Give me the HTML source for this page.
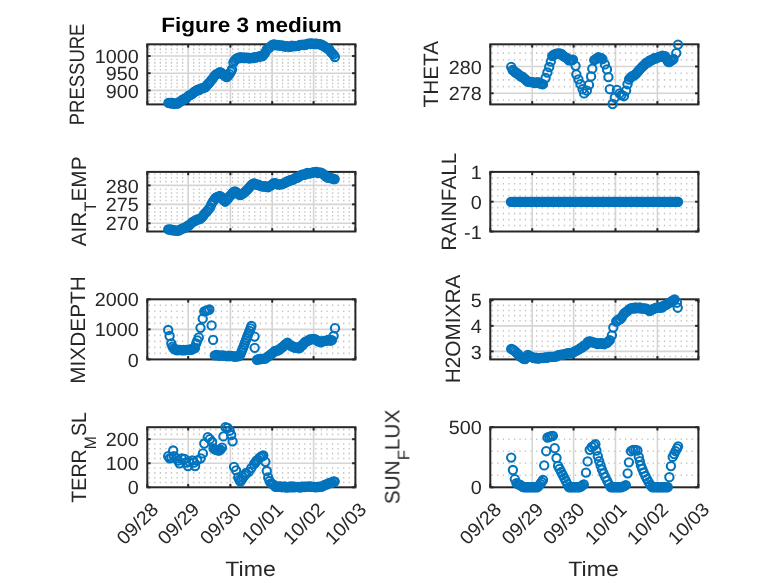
<!DOCTYPE html>
<html><head><meta charset="utf-8"><title>Figure 3 medium</title>
<style>html,body{margin:0;padding:0;background:#fff}svg{display:block}text{text-rendering:geometricPrecision}</style></head>
<body>
<svg width="778" height="583" viewBox="0 0 778 583" font-family="Liberation Sans, sans-serif">
<rect width="778" height="583" fill="#fff"/>
<g opacity="0.996">
<g><line x1="148.60" y1="100.72" x2="355.40" y2="100.72" stroke="#c4c4c4" stroke-width="1.6" stroke-dasharray="1.3 4.256"/><line x1="148.60" y1="97.28" x2="355.40" y2="97.28" stroke="#c4c4c4" stroke-width="1.6" stroke-dasharray="1.3 4.256"/><line x1="148.60" y1="93.84" x2="355.40" y2="93.84" stroke="#c4c4c4" stroke-width="1.6" stroke-dasharray="1.3 4.256"/><line x1="148.60" y1="86.96" x2="355.40" y2="86.96" stroke="#c4c4c4" stroke-width="1.6" stroke-dasharray="1.3 4.256"/><line x1="148.60" y1="83.52" x2="355.40" y2="83.52" stroke="#c4c4c4" stroke-width="1.6" stroke-dasharray="1.3 4.256"/><line x1="148.60" y1="80.08" x2="355.40" y2="80.08" stroke="#c4c4c4" stroke-width="1.6" stroke-dasharray="1.3 4.256"/><line x1="148.60" y1="76.64" x2="355.40" y2="76.64" stroke="#c4c4c4" stroke-width="1.6" stroke-dasharray="1.3 4.256"/><line x1="148.60" y1="69.76" x2="355.40" y2="69.76" stroke="#c4c4c4" stroke-width="1.6" stroke-dasharray="1.3 4.256"/><line x1="148.60" y1="66.32" x2="355.40" y2="66.32" stroke="#c4c4c4" stroke-width="1.6" stroke-dasharray="1.3 4.256"/><line x1="148.60" y1="62.88" x2="355.40" y2="62.88" stroke="#c4c4c4" stroke-width="1.6" stroke-dasharray="1.3 4.256"/><line x1="148.60" y1="59.44" x2="355.40" y2="59.44" stroke="#c4c4c4" stroke-width="1.6" stroke-dasharray="1.3 4.256"/><line x1="148.60" y1="52.56" x2="355.40" y2="52.56" stroke="#c4c4c4" stroke-width="1.6" stroke-dasharray="1.3 4.256"/><line x1="148.60" y1="49.12" x2="355.40" y2="49.12" stroke="#c4c4c4" stroke-width="1.6" stroke-dasharray="1.3 4.256"/><line x1="148.60" y1="45.68" x2="355.40" y2="45.68" stroke="#c4c4c4" stroke-width="1.6" stroke-dasharray="1.3 4.256"/><line x1="188.20" y1="44.30" x2="188.20" y2="104.40" stroke="#d5d5d5" stroke-width="1.6"/><line x1="230.40" y1="44.30" x2="230.40" y2="104.40" stroke="#d5d5d5" stroke-width="1.6"/><line x1="272.20" y1="44.30" x2="272.20" y2="104.40" stroke="#d5d5d5" stroke-width="1.6"/><line x1="313.60" y1="44.30" x2="313.60" y2="104.40" stroke="#d5d5d5" stroke-width="1.6"/><line x1="147.30" y1="56.00" x2="355.40" y2="56.00" stroke="#d5d5d5" stroke-width="1.6"/><line x1="147.30" y1="73.20" x2="355.40" y2="73.20" stroke="#d5d5d5" stroke-width="1.6"/><line x1="147.30" y1="90.40" x2="355.40" y2="90.40" stroke="#d5d5d5" stroke-width="1.6"/></g>
<g><rect x="147.30" y="44.30" width="208.10" height="60.10" fill="none" stroke="#262626" stroke-width="2.0"/><line x1="147.30" y1="104.40" x2="147.30" y2="101.10" stroke="#262626" stroke-width="2.0"/><line x1="147.30" y1="44.30" x2="147.30" y2="47.60" stroke="#262626" stroke-width="2.0"/><line x1="188.20" y1="104.40" x2="188.20" y2="101.10" stroke="#262626" stroke-width="2.0"/><line x1="188.20" y1="44.30" x2="188.20" y2="47.60" stroke="#262626" stroke-width="2.0"/><line x1="230.40" y1="104.40" x2="230.40" y2="101.10" stroke="#262626" stroke-width="2.0"/><line x1="230.40" y1="44.30" x2="230.40" y2="47.60" stroke="#262626" stroke-width="2.0"/><line x1="272.20" y1="104.40" x2="272.20" y2="101.10" stroke="#262626" stroke-width="2.0"/><line x1="272.20" y1="44.30" x2="272.20" y2="47.60" stroke="#262626" stroke-width="2.0"/><line x1="313.60" y1="104.40" x2="313.60" y2="101.10" stroke="#262626" stroke-width="2.0"/><line x1="313.60" y1="44.30" x2="313.60" y2="47.60" stroke="#262626" stroke-width="2.0"/><line x1="355.40" y1="104.40" x2="355.40" y2="101.10" stroke="#262626" stroke-width="2.0"/><line x1="355.40" y1="44.30" x2="355.40" y2="47.60" stroke="#262626" stroke-width="2.0"/><line x1="147.30" y1="56.00" x2="150.60" y2="56.00" stroke="#262626" stroke-width="2.0"/><line x1="355.40" y1="56.00" x2="352.10" y2="56.00" stroke="#262626" stroke-width="2.0"/><text transform="translate(138.70,63.14) scale(1.035,1)" font-size="19.1" fill="#262626" text-anchor="end">1000</text><line x1="147.30" y1="73.20" x2="150.60" y2="73.20" stroke="#262626" stroke-width="2.0"/><line x1="355.40" y1="73.20" x2="352.10" y2="73.20" stroke="#262626" stroke-width="2.0"/><text transform="translate(138.70,80.34) scale(1.035,1)" font-size="19.1" fill="#262626" text-anchor="end">950</text><line x1="147.30" y1="90.40" x2="150.60" y2="90.40" stroke="#262626" stroke-width="2.0"/><line x1="355.40" y1="90.40" x2="352.10" y2="90.40" stroke="#262626" stroke-width="2.0"/><text transform="translate(138.70,97.54) scale(1.035,1)" font-size="19.1" fill="#262626" text-anchor="end">900</text></g>
<g fill="none" stroke="#0072BD" stroke-width="2.05"><circle cx="168.4" cy="102.8" r="4.15"/><circle cx="169.8" cy="102.8" r="4.15"/><circle cx="171.2" cy="103.5" r="4.15"/><circle cx="172.6" cy="103.0" r="4.15"/><circle cx="174.0" cy="103.7" r="4.15"/><circle cx="175.3" cy="103.7" r="4.15"/><circle cx="176.7" cy="103.5" r="4.15"/><circle cx="178.1" cy="103.3" r="4.15"/><circle cx="179.5" cy="101.8" r="4.15"/><circle cx="180.9" cy="101.4" r="4.15"/><circle cx="182.3" cy="100.0" r="4.15"/><circle cx="183.7" cy="99.2" r="4.15"/><circle cx="185.1" cy="98.6" r="4.15"/><circle cx="186.5" cy="98.1" r="4.15"/><circle cx="187.9" cy="96.3" r="4.15"/><circle cx="189.2" cy="95.4" r="4.15"/><circle cx="190.6" cy="94.8" r="4.15"/><circle cx="192.0" cy="94.1" r="4.15"/><circle cx="193.4" cy="92.7" r="4.15"/><circle cx="194.8" cy="91.5" r="4.15"/><circle cx="196.2" cy="91.2" r="4.15"/><circle cx="197.6" cy="89.7" r="4.15"/><circle cx="199.0" cy="90.1" r="4.15"/><circle cx="200.4" cy="89.0" r="4.15"/><circle cx="201.8" cy="88.3" r="4.15"/><circle cx="203.1" cy="87.8" r="4.15"/><circle cx="204.5" cy="87.5" r="4.15"/><circle cx="205.9" cy="86.8" r="4.15"/><circle cx="207.3" cy="84.6" r="4.15"/><circle cx="208.7" cy="83.5" r="4.15"/><circle cx="210.1" cy="81.9" r="4.15"/><circle cx="211.5" cy="79.9" r="4.15"/><circle cx="212.9" cy="78.4" r="4.15"/><circle cx="214.3" cy="76.1" r="4.15"/><circle cx="215.7" cy="74.6" r="4.15"/><circle cx="217.0" cy="73.8" r="4.15"/><circle cx="218.4" cy="73.4" r="4.15"/><circle cx="219.8" cy="72.1" r="4.15"/><circle cx="221.2" cy="72.7" r="4.15"/><circle cx="222.6" cy="74.0" r="4.15"/><circle cx="224.0" cy="75.1" r="4.15"/><circle cx="225.4" cy="76.4" r="4.15"/><circle cx="226.8" cy="77.1" r="4.15"/><circle cx="228.2" cy="75.8" r="4.15"/><circle cx="229.6" cy="74.1" r="4.15"/><circle cx="230.9" cy="71.7" r="4.15"/><circle cx="232.0" cy="69.5" r="4.15"/><circle cx="233.4" cy="62.5" r="4.15"/><circle cx="234.8" cy="60.4" r="4.15"/><circle cx="236.2" cy="58.9" r="4.15"/><circle cx="237.6" cy="57.9" r="4.15"/><circle cx="239.0" cy="58.3" r="4.15"/><circle cx="240.3" cy="57.2" r="4.15"/><circle cx="241.7" cy="57.7" r="4.15"/><circle cx="243.1" cy="58.1" r="4.15"/><circle cx="244.5" cy="57.5" r="4.15"/><circle cx="245.9" cy="58.0" r="4.15"/><circle cx="247.3" cy="57.6" r="4.15"/><circle cx="248.7" cy="58.4" r="4.15"/><circle cx="250.1" cy="58.3" r="4.15"/><circle cx="251.5" cy="57.9" r="4.15"/><circle cx="252.9" cy="58.1" r="4.15"/><circle cx="254.2" cy="57.3" r="4.15"/><circle cx="255.6" cy="57.5" r="4.15"/><circle cx="257.0" cy="57.2" r="4.15"/><circle cx="258.4" cy="56.8" r="4.15"/><circle cx="259.8" cy="56.3" r="4.15"/><circle cx="261.2" cy="56.3" r="4.15"/><circle cx="262.6" cy="56.0" r="4.15"/><circle cx="264.0" cy="54.4" r="4.15"/><circle cx="265.4" cy="52.3" r="4.15"/><circle cx="266.8" cy="49.4" r="4.15"/><circle cx="268.1" cy="48.7" r="4.15"/><circle cx="269.5" cy="47.3" r="4.15"/><circle cx="270.9" cy="46.4" r="4.15"/><circle cx="272.3" cy="44.9" r="4.15"/><circle cx="273.7" cy="44.5" r="4.15"/><circle cx="275.1" cy="44.8" r="4.15"/><circle cx="276.5" cy="45.4" r="4.15"/><circle cx="277.9" cy="44.9" r="4.15"/><circle cx="279.3" cy="45.6" r="4.15"/><circle cx="280.7" cy="45.5" r="4.15"/><circle cx="282.0" cy="45.6" r="4.15"/><circle cx="283.4" cy="45.7" r="4.15"/><circle cx="284.8" cy="46.7" r="4.15"/><circle cx="286.2" cy="46.1" r="4.15"/><circle cx="287.6" cy="46.4" r="4.15"/><circle cx="289.0" cy="46.6" r="4.15"/><circle cx="290.4" cy="46.9" r="4.15"/><circle cx="291.8" cy="45.8" r="4.15"/><circle cx="293.2" cy="46.1" r="4.15"/><circle cx="294.6" cy="46.0" r="4.15"/><circle cx="295.9" cy="46.1" r="4.15"/><circle cx="297.3" cy="45.9" r="4.15"/><circle cx="298.7" cy="45.7" r="4.15"/><circle cx="300.1" cy="44.9" r="4.15"/><circle cx="301.5" cy="44.9" r="4.15"/><circle cx="302.9" cy="44.6" r="4.15"/><circle cx="304.3" cy="45.0" r="4.15"/><circle cx="305.7" cy="44.9" r="4.15"/><circle cx="307.1" cy="43.9" r="4.15"/><circle cx="308.5" cy="43.7" r="4.15"/><circle cx="309.8" cy="43.6" r="4.15"/><circle cx="311.2" cy="43.4" r="4.15"/><circle cx="312.6" cy="43.8" r="4.15"/><circle cx="314.0" cy="44.0" r="4.15"/><circle cx="315.4" cy="43.7" r="4.15"/><circle cx="316.8" cy="43.6" r="4.15"/><circle cx="318.2" cy="44.1" r="4.15"/><circle cx="319.6" cy="44.2" r="4.15"/><circle cx="321.0" cy="44.5" r="4.15"/><circle cx="322.4" cy="45.3" r="4.15"/><circle cx="323.7" cy="46.0" r="4.15"/><circle cx="325.1" cy="46.8" r="4.15"/><circle cx="326.5" cy="47.9" r="4.15"/><circle cx="327.9" cy="48.9" r="4.15"/><circle cx="329.3" cy="49.5" r="4.15"/><circle cx="330.7" cy="51.8" r="4.15"/><circle cx="332.1" cy="53.1" r="4.15"/><circle cx="333.5" cy="54.6" r="4.15"/><circle cx="334.9" cy="57.0" r="4.15"/></g>
<g><line x1="148.60" y1="227.09" x2="355.40" y2="227.09" stroke="#c4c4c4" stroke-width="1.6" stroke-dasharray="1.3 4.256"/><line x1="148.60" y1="219.51" x2="355.40" y2="219.51" stroke="#c4c4c4" stroke-width="1.6" stroke-dasharray="1.3 4.256"/><line x1="148.60" y1="215.72" x2="355.40" y2="215.72" stroke="#c4c4c4" stroke-width="1.6" stroke-dasharray="1.3 4.256"/><line x1="148.60" y1="211.93" x2="355.40" y2="211.93" stroke="#c4c4c4" stroke-width="1.6" stroke-dasharray="1.3 4.256"/><line x1="148.60" y1="208.14" x2="355.40" y2="208.14" stroke="#c4c4c4" stroke-width="1.6" stroke-dasharray="1.3 4.256"/><line x1="148.60" y1="200.56" x2="355.40" y2="200.56" stroke="#c4c4c4" stroke-width="1.6" stroke-dasharray="1.3 4.256"/><line x1="148.60" y1="196.77" x2="355.40" y2="196.77" stroke="#c4c4c4" stroke-width="1.6" stroke-dasharray="1.3 4.256"/><line x1="148.60" y1="192.98" x2="355.40" y2="192.98" stroke="#c4c4c4" stroke-width="1.6" stroke-dasharray="1.3 4.256"/><line x1="148.60" y1="189.19" x2="355.40" y2="189.19" stroke="#c4c4c4" stroke-width="1.6" stroke-dasharray="1.3 4.256"/><line x1="148.60" y1="181.61" x2="355.40" y2="181.61" stroke="#c4c4c4" stroke-width="1.6" stroke-dasharray="1.3 4.256"/><line x1="148.60" y1="177.82" x2="355.40" y2="177.82" stroke="#c4c4c4" stroke-width="1.6" stroke-dasharray="1.3 4.256"/><line x1="148.60" y1="174.03" x2="355.40" y2="174.03" stroke="#c4c4c4" stroke-width="1.6" stroke-dasharray="1.3 4.256"/><line x1="188.20" y1="171.90" x2="188.20" y2="231.50" stroke="#d5d5d5" stroke-width="1.6"/><line x1="230.40" y1="171.90" x2="230.40" y2="231.50" stroke="#d5d5d5" stroke-width="1.6"/><line x1="272.20" y1="171.90" x2="272.20" y2="231.50" stroke="#d5d5d5" stroke-width="1.6"/><line x1="313.60" y1="171.90" x2="313.60" y2="231.50" stroke="#d5d5d5" stroke-width="1.6"/><line x1="147.30" y1="185.40" x2="355.40" y2="185.40" stroke="#d5d5d5" stroke-width="1.6"/><line x1="147.30" y1="204.35" x2="355.40" y2="204.35" stroke="#d5d5d5" stroke-width="1.6"/><line x1="147.30" y1="223.30" x2="355.40" y2="223.30" stroke="#d5d5d5" stroke-width="1.6"/></g>
<g><rect x="147.30" y="171.90" width="208.10" height="59.60" fill="none" stroke="#262626" stroke-width="2.0"/><line x1="147.30" y1="231.50" x2="147.30" y2="228.20" stroke="#262626" stroke-width="2.0"/><line x1="147.30" y1="171.90" x2="147.30" y2="175.20" stroke="#262626" stroke-width="2.0"/><line x1="188.20" y1="231.50" x2="188.20" y2="228.20" stroke="#262626" stroke-width="2.0"/><line x1="188.20" y1="171.90" x2="188.20" y2="175.20" stroke="#262626" stroke-width="2.0"/><line x1="230.40" y1="231.50" x2="230.40" y2="228.20" stroke="#262626" stroke-width="2.0"/><line x1="230.40" y1="171.90" x2="230.40" y2="175.20" stroke="#262626" stroke-width="2.0"/><line x1="272.20" y1="231.50" x2="272.20" y2="228.20" stroke="#262626" stroke-width="2.0"/><line x1="272.20" y1="171.90" x2="272.20" y2="175.20" stroke="#262626" stroke-width="2.0"/><line x1="313.60" y1="231.50" x2="313.60" y2="228.20" stroke="#262626" stroke-width="2.0"/><line x1="313.60" y1="171.90" x2="313.60" y2="175.20" stroke="#262626" stroke-width="2.0"/><line x1="355.40" y1="231.50" x2="355.40" y2="228.20" stroke="#262626" stroke-width="2.0"/><line x1="355.40" y1="171.90" x2="355.40" y2="175.20" stroke="#262626" stroke-width="2.0"/><line x1="147.30" y1="185.40" x2="150.60" y2="185.40" stroke="#262626" stroke-width="2.0"/><line x1="355.40" y1="185.40" x2="352.10" y2="185.40" stroke="#262626" stroke-width="2.0"/><text transform="translate(138.70,192.54) scale(1.035,1)" font-size="19.1" fill="#262626" text-anchor="end">280</text><line x1="147.30" y1="204.35" x2="150.60" y2="204.35" stroke="#262626" stroke-width="2.0"/><line x1="355.40" y1="204.35" x2="352.10" y2="204.35" stroke="#262626" stroke-width="2.0"/><text transform="translate(138.70,211.49) scale(1.035,1)" font-size="19.1" fill="#262626" text-anchor="end">275</text><line x1="147.30" y1="223.30" x2="150.60" y2="223.30" stroke="#262626" stroke-width="2.0"/><line x1="355.40" y1="223.30" x2="352.10" y2="223.30" stroke="#262626" stroke-width="2.0"/><text transform="translate(138.70,230.44) scale(1.035,1)" font-size="19.1" fill="#262626" text-anchor="end">270</text></g>
<g fill="none" stroke="#0072BD" stroke-width="2.05"><circle cx="168.2" cy="229.3" r="4.15"/><circle cx="169.6" cy="229.6" r="4.15"/><circle cx="171.0" cy="229.5" r="4.15"/><circle cx="172.4" cy="230.4" r="4.15"/><circle cx="173.8" cy="230.1" r="4.15"/><circle cx="175.1" cy="230.4" r="4.15"/><circle cx="176.5" cy="230.8" r="4.15"/><circle cx="177.9" cy="230.7" r="4.15"/><circle cx="179.3" cy="230.3" r="4.15"/><circle cx="180.7" cy="229.4" r="4.15"/><circle cx="182.1" cy="228.7" r="4.15"/><circle cx="183.5" cy="228.3" r="4.15"/><circle cx="184.9" cy="227.6" r="4.15"/><circle cx="186.3" cy="227.0" r="4.15"/><circle cx="187.7" cy="225.6" r="4.15"/><circle cx="189.0" cy="225.5" r="4.15"/><circle cx="190.4" cy="224.1" r="4.15"/><circle cx="191.8" cy="222.6" r="4.15"/><circle cx="193.2" cy="221.7" r="4.15"/><circle cx="194.6" cy="221.0" r="4.15"/><circle cx="196.0" cy="220.3" r="4.15"/><circle cx="197.4" cy="219.3" r="4.15"/><circle cx="198.8" cy="219.4" r="4.15"/><circle cx="200.2" cy="218.9" r="4.15"/><circle cx="201.6" cy="217.6" r="4.15"/><circle cx="202.9" cy="216.4" r="4.15"/><circle cx="204.3" cy="214.2" r="4.15"/><circle cx="205.7" cy="212.6" r="4.15"/><circle cx="207.1" cy="211.2" r="4.15"/><circle cx="208.5" cy="209.4" r="4.15"/><circle cx="209.9" cy="207.9" r="4.15"/><circle cx="211.3" cy="204.5" r="4.15"/><circle cx="212.7" cy="201.8" r="4.15"/><circle cx="214.1" cy="200.2" r="4.15"/><circle cx="215.5" cy="198.0" r="4.15"/><circle cx="216.8" cy="197.1" r="4.15"/><circle cx="218.2" cy="197.0" r="4.15"/><circle cx="219.6" cy="195.9" r="4.15"/><circle cx="221.0" cy="196.7" r="4.15"/><circle cx="222.4" cy="198.8" r="4.15"/><circle cx="223.8" cy="200.3" r="4.15"/><circle cx="225.2" cy="201.7" r="4.15"/><circle cx="226.6" cy="200.2" r="4.15"/><circle cx="228.0" cy="198.5" r="4.15"/><circle cx="229.4" cy="196.5" r="4.15"/><circle cx="230.7" cy="195.4" r="4.15"/><circle cx="232.1" cy="193.5" r="4.15"/><circle cx="233.5" cy="192.1" r="4.15"/><circle cx="234.9" cy="191.5" r="4.15"/><circle cx="236.3" cy="192.2" r="4.15"/><circle cx="237.7" cy="193.6" r="4.15"/><circle cx="239.1" cy="194.5" r="4.15"/><circle cx="240.5" cy="195.0" r="4.15"/><circle cx="241.9" cy="194.1" r="4.15"/><circle cx="243.3" cy="193.3" r="4.15"/><circle cx="244.6" cy="192.3" r="4.15"/><circle cx="246.0" cy="190.9" r="4.15"/><circle cx="247.4" cy="189.7" r="4.15"/><circle cx="248.8" cy="188.1" r="4.15"/><circle cx="250.2" cy="186.3" r="4.15"/><circle cx="251.6" cy="184.9" r="4.15"/><circle cx="253.0" cy="183.7" r="4.15"/><circle cx="254.4" cy="183.4" r="4.15"/><circle cx="255.8" cy="184.2" r="4.15"/><circle cx="257.2" cy="184.9" r="4.15"/><circle cx="258.5" cy="184.7" r="4.15"/><circle cx="259.9" cy="185.7" r="4.15"/><circle cx="261.3" cy="186.1" r="4.15"/><circle cx="262.7" cy="186.5" r="4.15"/><circle cx="264.1" cy="186.2" r="4.15"/><circle cx="265.5" cy="186.5" r="4.15"/><circle cx="266.9" cy="186.9" r="4.15"/><circle cx="268.3" cy="187.2" r="4.15"/><circle cx="269.7" cy="186.0" r="4.15"/><circle cx="271.1" cy="185.3" r="4.15"/><circle cx="272.4" cy="184.4" r="4.15"/><circle cx="273.8" cy="183.1" r="4.15"/><circle cx="275.2" cy="183.2" r="4.15"/><circle cx="276.6" cy="183.9" r="4.15"/><circle cx="278.0" cy="184.6" r="4.15"/><circle cx="279.4" cy="184.3" r="4.15"/><circle cx="280.8" cy="184.4" r="4.15"/><circle cx="282.2" cy="184.1" r="4.15"/><circle cx="283.6" cy="183.4" r="4.15"/><circle cx="285.0" cy="182.8" r="4.15"/><circle cx="286.3" cy="182.0" r="4.15"/><circle cx="287.7" cy="181.1" r="4.15"/><circle cx="289.1" cy="181.1" r="4.15"/><circle cx="290.5" cy="180.0" r="4.15"/><circle cx="291.9" cy="179.9" r="4.15"/><circle cx="293.3" cy="179.5" r="4.15"/><circle cx="294.7" cy="178.3" r="4.15"/><circle cx="296.1" cy="177.7" r="4.15"/><circle cx="297.5" cy="177.7" r="4.15"/><circle cx="298.9" cy="176.9" r="4.15"/><circle cx="300.2" cy="175.7" r="4.15"/><circle cx="301.6" cy="175.0" r="4.15"/><circle cx="303.0" cy="174.5" r="4.15"/><circle cx="304.4" cy="174.8" r="4.15"/><circle cx="305.8" cy="174.1" r="4.15"/><circle cx="307.2" cy="173.0" r="4.15"/><circle cx="308.6" cy="173.5" r="4.15"/><circle cx="310.0" cy="173.4" r="4.15"/><circle cx="311.4" cy="172.9" r="4.15"/><circle cx="312.8" cy="172.3" r="4.15"/><circle cx="314.1" cy="172.3" r="4.15"/><circle cx="315.5" cy="171.8" r="4.15"/><circle cx="316.9" cy="171.8" r="4.15"/><circle cx="318.3" cy="173.0" r="4.15"/><circle cx="319.7" cy="172.7" r="4.15"/><circle cx="321.1" cy="172.7" r="4.15"/><circle cx="322.5" cy="173.7" r="4.15"/><circle cx="323.9" cy="174.4" r="4.15"/><circle cx="325.3" cy="176.1" r="4.15"/><circle cx="326.7" cy="177.2" r="4.15"/><circle cx="328.0" cy="177.5" r="4.15"/><circle cx="329.4" cy="177.8" r="4.15"/><circle cx="330.8" cy="178.1" r="4.15"/><circle cx="332.2" cy="178.3" r="4.15"/><circle cx="333.6" cy="179.0" r="4.15"/><circle cx="334.7" cy="179.1" r="4.15"/></g>
<g><line x1="148.60" y1="353.39" x2="355.40" y2="353.39" stroke="#c4c4c4" stroke-width="1.6" stroke-dasharray="1.3 4.256"/><line x1="148.60" y1="347.38" x2="355.40" y2="347.38" stroke="#c4c4c4" stroke-width="1.6" stroke-dasharray="1.3 4.256"/><line x1="148.60" y1="341.37" x2="355.40" y2="341.37" stroke="#c4c4c4" stroke-width="1.6" stroke-dasharray="1.3 4.256"/><line x1="148.60" y1="335.36" x2="355.40" y2="335.36" stroke="#c4c4c4" stroke-width="1.6" stroke-dasharray="1.3 4.256"/><line x1="148.60" y1="323.34" x2="355.40" y2="323.34" stroke="#c4c4c4" stroke-width="1.6" stroke-dasharray="1.3 4.256"/><line x1="148.60" y1="317.33" x2="355.40" y2="317.33" stroke="#c4c4c4" stroke-width="1.6" stroke-dasharray="1.3 4.256"/><line x1="148.60" y1="311.32" x2="355.40" y2="311.32" stroke="#c4c4c4" stroke-width="1.6" stroke-dasharray="1.3 4.256"/><line x1="148.60" y1="305.31" x2="355.40" y2="305.31" stroke="#c4c4c4" stroke-width="1.6" stroke-dasharray="1.3 4.256"/><line x1="188.20" y1="299.30" x2="188.20" y2="359.40" stroke="#d5d5d5" stroke-width="1.6"/><line x1="230.40" y1="299.30" x2="230.40" y2="359.40" stroke="#d5d5d5" stroke-width="1.6"/><line x1="272.20" y1="299.30" x2="272.20" y2="359.40" stroke="#d5d5d5" stroke-width="1.6"/><line x1="313.60" y1="299.30" x2="313.60" y2="359.40" stroke="#d5d5d5" stroke-width="1.6"/><line x1="147.30" y1="329.35" x2="355.40" y2="329.35" stroke="#d5d5d5" stroke-width="1.6"/></g>
<g><rect x="147.30" y="299.30" width="208.10" height="60.10" fill="none" stroke="#262626" stroke-width="2.0"/><line x1="147.30" y1="359.40" x2="147.30" y2="356.10" stroke="#262626" stroke-width="2.0"/><line x1="147.30" y1="299.30" x2="147.30" y2="302.60" stroke="#262626" stroke-width="2.0"/><line x1="188.20" y1="359.40" x2="188.20" y2="356.10" stroke="#262626" stroke-width="2.0"/><line x1="188.20" y1="299.30" x2="188.20" y2="302.60" stroke="#262626" stroke-width="2.0"/><line x1="230.40" y1="359.40" x2="230.40" y2="356.10" stroke="#262626" stroke-width="2.0"/><line x1="230.40" y1="299.30" x2="230.40" y2="302.60" stroke="#262626" stroke-width="2.0"/><line x1="272.20" y1="359.40" x2="272.20" y2="356.10" stroke="#262626" stroke-width="2.0"/><line x1="272.20" y1="299.30" x2="272.20" y2="302.60" stroke="#262626" stroke-width="2.0"/><line x1="313.60" y1="359.40" x2="313.60" y2="356.10" stroke="#262626" stroke-width="2.0"/><line x1="313.60" y1="299.30" x2="313.60" y2="302.60" stroke="#262626" stroke-width="2.0"/><line x1="355.40" y1="359.40" x2="355.40" y2="356.10" stroke="#262626" stroke-width="2.0"/><line x1="355.40" y1="299.30" x2="355.40" y2="302.60" stroke="#262626" stroke-width="2.0"/><line x1="147.30" y1="299.30" x2="150.60" y2="299.30" stroke="#262626" stroke-width="2.0"/><line x1="355.40" y1="299.30" x2="352.10" y2="299.30" stroke="#262626" stroke-width="2.0"/><text transform="translate(138.70,306.44) scale(1.035,1)" font-size="19.1" fill="#262626" text-anchor="end">2000</text><line x1="147.30" y1="329.35" x2="150.60" y2="329.35" stroke="#262626" stroke-width="2.0"/><line x1="355.40" y1="329.35" x2="352.10" y2="329.35" stroke="#262626" stroke-width="2.0"/><text transform="translate(138.70,336.49) scale(1.035,1)" font-size="19.1" fill="#262626" text-anchor="end">1000</text><line x1="147.30" y1="359.40" x2="150.60" y2="359.40" stroke="#262626" stroke-width="2.0"/><line x1="355.40" y1="359.40" x2="352.10" y2="359.40" stroke="#262626" stroke-width="2.0"/><text transform="translate(138.70,366.54) scale(1.035,1)" font-size="19.1" fill="#262626" text-anchor="end">0</text></g>
<g fill="none" stroke="#0072BD" stroke-width="2.05"><circle cx="168.2" cy="330.0" r="4.15"/><circle cx="169.6" cy="336.0" r="4.15"/><circle cx="171.3" cy="343.5" r="4.15"/><circle cx="172.5" cy="346.6" r="4.15"/><circle cx="173.5" cy="348.3" r="4.15"/><circle cx="174.8" cy="349.3" r="4.15"/><circle cx="176.0" cy="349.5" r="4.15"/><circle cx="177.3" cy="350.4" r="4.15"/><circle cx="178.6" cy="349.8" r="4.15"/><circle cx="179.9" cy="349.9" r="4.15"/><circle cx="181.1" cy="350.1" r="4.15"/><circle cx="182.4" cy="350.4" r="4.15"/><circle cx="183.7" cy="349.9" r="4.15"/><circle cx="185.0" cy="350.4" r="4.15"/><circle cx="186.2" cy="349.9" r="4.15"/><circle cx="187.5" cy="349.9" r="4.15"/><circle cx="188.8" cy="349.9" r="4.15"/><circle cx="190.1" cy="349.3" r="4.15"/><circle cx="191.3" cy="349.8" r="4.15"/><circle cx="192.6" cy="349.1" r="4.15"/><circle cx="193.9" cy="348.1" r="4.15"/><circle cx="195.0" cy="348.0" r="4.15"/><circle cx="196.2" cy="343.5" r="4.15"/><circle cx="197.4" cy="340.3" r="4.15"/><circle cx="198.8" cy="337.4" r="4.15"/><circle cx="200.5" cy="327.8" r="4.15"/><circle cx="202.7" cy="318.7" r="4.15"/><circle cx="204.3" cy="311.4" r="4.15"/><circle cx="206.0" cy="310.8" r="4.15"/><circle cx="207.7" cy="310.2" r="4.15"/><circle cx="209.4" cy="309.5" r="4.15"/><circle cx="211.6" cy="325.4" r="4.15"/><circle cx="213.1" cy="339.9" r="4.15"/><circle cx="214.8" cy="355.4" r="4.15"/><circle cx="216.3" cy="354.8" r="4.15"/><circle cx="217.8" cy="355.3" r="4.15"/><circle cx="219.3" cy="355.7" r="4.15"/><circle cx="220.8" cy="355.6" r="4.15"/><circle cx="222.3" cy="355.4" r="4.15"/><circle cx="223.8" cy="355.7" r="4.15"/><circle cx="225.3" cy="355.9" r="4.15"/><circle cx="226.8" cy="356.2" r="4.15"/><circle cx="228.4" cy="355.6" r="4.15"/><circle cx="229.9" cy="356.2" r="4.15"/><circle cx="231.4" cy="355.9" r="4.15"/><circle cx="232.9" cy="356.1" r="4.15"/><circle cx="234.4" cy="356.7" r="4.15"/><circle cx="235.9" cy="356.5" r="4.15"/><circle cx="237.4" cy="356.3" r="4.15"/><circle cx="238.9" cy="356.1" r="4.15"/><circle cx="240.4" cy="354.6" r="4.15"/><circle cx="241.3" cy="352.2" r="4.15"/><circle cx="242.2" cy="349.8" r="4.15"/><circle cx="243.2" cy="347.5" r="4.15"/><circle cx="244.1" cy="345.1" r="4.15"/><circle cx="245.0" cy="342.7" r="4.15"/><circle cx="245.9" cy="340.3" r="4.15"/><circle cx="246.8" cy="337.9" r="4.15"/><circle cx="247.7" cy="335.5" r="4.15"/><circle cx="248.7" cy="333.1" r="4.15"/><circle cx="249.6" cy="330.8" r="4.15"/><circle cx="250.5" cy="328.4" r="4.15"/><circle cx="251.4" cy="326.0" r="4.15"/><circle cx="254.6" cy="336.6" r="4.15"/><circle cx="254.7" cy="347.8" r="4.15"/><circle cx="256.9" cy="359.8" r="4.15"/><circle cx="258.3" cy="359.1" r="4.15"/><circle cx="259.7" cy="359.2" r="4.15"/><circle cx="261.1" cy="359.0" r="4.15"/><circle cx="262.5" cy="358.9" r="4.15"/><circle cx="263.8" cy="358.9" r="4.15"/><circle cx="265.2" cy="358.6" r="4.15"/><circle cx="266.6" cy="357.6" r="4.15"/><circle cx="268.0" cy="356.4" r="4.15"/><circle cx="269.4" cy="355.7" r="4.15"/><circle cx="270.8" cy="354.3" r="4.15"/><circle cx="272.2" cy="353.3" r="4.15"/><circle cx="273.6" cy="352.3" r="4.15"/><circle cx="275.0" cy="350.8" r="4.15"/><circle cx="276.4" cy="350.6" r="4.15"/><circle cx="277.7" cy="350.5" r="4.15"/><circle cx="279.1" cy="349.8" r="4.15"/><circle cx="280.5" cy="348.5" r="4.15"/><circle cx="281.9" cy="347.5" r="4.15"/><circle cx="283.3" cy="346.5" r="4.15"/><circle cx="284.7" cy="344.9" r="4.15"/><circle cx="286.1" cy="343.8" r="4.15"/><circle cx="287.5" cy="342.7" r="4.15"/><circle cx="288.9" cy="344.2" r="4.15"/><circle cx="290.3" cy="345.3" r="4.15"/><circle cx="291.6" cy="346.4" r="4.15"/><circle cx="293.0" cy="346.5" r="4.15"/><circle cx="294.4" cy="347.6" r="4.15"/><circle cx="295.8" cy="347.7" r="4.15"/><circle cx="297.2" cy="347.3" r="4.15"/><circle cx="298.6" cy="348.3" r="4.15"/><circle cx="300.0" cy="347.8" r="4.15"/><circle cx="301.4" cy="345.6" r="4.15"/><circle cx="302.8" cy="345.0" r="4.15"/><circle cx="304.2" cy="343.0" r="4.15"/><circle cx="305.5" cy="341.7" r="4.15"/><circle cx="306.9" cy="341.3" r="4.15"/><circle cx="308.3" cy="340.7" r="4.15"/><circle cx="309.7" cy="339.5" r="4.15"/><circle cx="311.1" cy="339.4" r="4.15"/><circle cx="312.5" cy="339.1" r="4.15"/><circle cx="313.9" cy="338.8" r="4.15"/><circle cx="315.3" cy="339.4" r="4.15"/><circle cx="316.7" cy="340.2" r="4.15"/><circle cx="318.1" cy="341.3" r="4.15"/><circle cx="319.4" cy="341.2" r="4.15"/><circle cx="320.8" cy="342.3" r="4.15"/><circle cx="322.2" cy="341.7" r="4.15"/><circle cx="323.6" cy="340.8" r="4.15"/><circle cx="325.0" cy="340.8" r="4.15"/><circle cx="326.4" cy="340.7" r="4.15"/><circle cx="327.8" cy="340.2" r="4.15"/><circle cx="329.2" cy="339.7" r="4.15"/><circle cx="330.6" cy="340.7" r="4.15"/><circle cx="331.9" cy="340.2" r="4.15"/><circle cx="333.6" cy="336.0" r="4.15"/><circle cx="335.0" cy="328.2" r="4.15"/></g>
<g><line x1="148.60" y1="482.49" x2="355.40" y2="482.49" stroke="#c4c4c4" stroke-width="1.6" stroke-dasharray="1.3 4.256"/><line x1="148.60" y1="477.68" x2="355.40" y2="477.68" stroke="#c4c4c4" stroke-width="1.6" stroke-dasharray="1.3 4.256"/><line x1="148.60" y1="472.87" x2="355.40" y2="472.87" stroke="#c4c4c4" stroke-width="1.6" stroke-dasharray="1.3 4.256"/><line x1="148.60" y1="468.06" x2="355.40" y2="468.06" stroke="#c4c4c4" stroke-width="1.6" stroke-dasharray="1.3 4.256"/><line x1="148.60" y1="458.44" x2="355.40" y2="458.44" stroke="#c4c4c4" stroke-width="1.6" stroke-dasharray="1.3 4.256"/><line x1="148.60" y1="453.63" x2="355.40" y2="453.63" stroke="#c4c4c4" stroke-width="1.6" stroke-dasharray="1.3 4.256"/><line x1="148.60" y1="448.82" x2="355.40" y2="448.82" stroke="#c4c4c4" stroke-width="1.6" stroke-dasharray="1.3 4.256"/><line x1="148.60" y1="444.01" x2="355.40" y2="444.01" stroke="#c4c4c4" stroke-width="1.6" stroke-dasharray="1.3 4.256"/><line x1="148.60" y1="434.39" x2="355.40" y2="434.39" stroke="#c4c4c4" stroke-width="1.6" stroke-dasharray="1.3 4.256"/><line x1="148.60" y1="429.58" x2="355.40" y2="429.58" stroke="#c4c4c4" stroke-width="1.6" stroke-dasharray="1.3 4.256"/><line x1="188.20" y1="427.20" x2="188.20" y2="487.30" stroke="#d5d5d5" stroke-width="1.6"/><line x1="230.40" y1="427.20" x2="230.40" y2="487.30" stroke="#d5d5d5" stroke-width="1.6"/><line x1="272.20" y1="427.20" x2="272.20" y2="487.30" stroke="#d5d5d5" stroke-width="1.6"/><line x1="313.60" y1="427.20" x2="313.60" y2="487.30" stroke="#d5d5d5" stroke-width="1.6"/><line x1="147.30" y1="439.20" x2="355.40" y2="439.20" stroke="#d5d5d5" stroke-width="1.6"/><line x1="147.30" y1="463.25" x2="355.40" y2="463.25" stroke="#d5d5d5" stroke-width="1.6"/></g>
<g><rect x="147.30" y="427.20" width="208.10" height="60.10" fill="none" stroke="#262626" stroke-width="2.0"/><line x1="147.30" y1="487.30" x2="147.30" y2="484.00" stroke="#262626" stroke-width="2.0"/><line x1="147.30" y1="427.20" x2="147.30" y2="430.50" stroke="#262626" stroke-width="2.0"/><line x1="188.20" y1="487.30" x2="188.20" y2="484.00" stroke="#262626" stroke-width="2.0"/><line x1="188.20" y1="427.20" x2="188.20" y2="430.50" stroke="#262626" stroke-width="2.0"/><line x1="230.40" y1="487.30" x2="230.40" y2="484.00" stroke="#262626" stroke-width="2.0"/><line x1="230.40" y1="427.20" x2="230.40" y2="430.50" stroke="#262626" stroke-width="2.0"/><line x1="272.20" y1="487.30" x2="272.20" y2="484.00" stroke="#262626" stroke-width="2.0"/><line x1="272.20" y1="427.20" x2="272.20" y2="430.50" stroke="#262626" stroke-width="2.0"/><line x1="313.60" y1="487.30" x2="313.60" y2="484.00" stroke="#262626" stroke-width="2.0"/><line x1="313.60" y1="427.20" x2="313.60" y2="430.50" stroke="#262626" stroke-width="2.0"/><line x1="355.40" y1="487.30" x2="355.40" y2="484.00" stroke="#262626" stroke-width="2.0"/><line x1="355.40" y1="427.20" x2="355.40" y2="430.50" stroke="#262626" stroke-width="2.0"/><line x1="147.30" y1="439.20" x2="150.60" y2="439.20" stroke="#262626" stroke-width="2.0"/><line x1="355.40" y1="439.20" x2="352.10" y2="439.20" stroke="#262626" stroke-width="2.0"/><text transform="translate(138.70,446.34) scale(1.035,1)" font-size="19.1" fill="#262626" text-anchor="end">200</text><line x1="147.30" y1="463.25" x2="150.60" y2="463.25" stroke="#262626" stroke-width="2.0"/><line x1="355.40" y1="463.25" x2="352.10" y2="463.25" stroke="#262626" stroke-width="2.0"/><text transform="translate(138.70,470.39) scale(1.035,1)" font-size="19.1" fill="#262626" text-anchor="end">100</text><line x1="147.30" y1="487.30" x2="150.60" y2="487.30" stroke="#262626" stroke-width="2.0"/><line x1="355.40" y1="487.30" x2="352.10" y2="487.30" stroke="#262626" stroke-width="2.0"/><text transform="translate(138.70,494.44) scale(1.035,1)" font-size="19.1" fill="#262626" text-anchor="end">0</text></g>
<g fill="none" stroke="#0072BD" stroke-width="2.05"><circle cx="168.2" cy="456.2" r="4.15"/><circle cx="169.6" cy="458.3" r="4.15"/><circle cx="173.2" cy="450.5" r="4.15"/><circle cx="173.9" cy="456.2" r="4.15"/><circle cx="176.7" cy="458.3" r="4.15"/><circle cx="179.5" cy="463.3" r="4.15"/><circle cx="181.7" cy="458.3" r="4.15"/><circle cx="184.5" cy="459.0" r="4.15"/><circle cx="188.0" cy="466.1" r="4.15"/><circle cx="189.4" cy="461.8" r="4.15"/><circle cx="192.3" cy="460.4" r="4.15"/><circle cx="195.1" cy="466.1" r="4.15"/><circle cx="197.2" cy="460.4" r="4.15"/><circle cx="200.7" cy="458.3" r="4.15"/><circle cx="202.9" cy="453.4" r="4.15"/><circle cx="204.3" cy="443.5" r="4.15"/><circle cx="207.8" cy="437.1" r="4.15"/><circle cx="209.9" cy="439.2" r="4.15"/><circle cx="212.1" cy="442.0" r="4.15"/><circle cx="213.5" cy="448.4" r="4.15"/><circle cx="216.3" cy="449.8" r="4.15"/><circle cx="219.1" cy="450.5" r="4.15"/><circle cx="222.0" cy="447.7" r="4.15"/><circle cx="223.4" cy="436.4" r="4.15"/><circle cx="225.5" cy="427.2" r="4.15"/><circle cx="227.6" cy="427.9" r="4.15"/><circle cx="229.7" cy="430.7" r="4.15"/><circle cx="231.2" cy="435.0" r="4.15"/><circle cx="232.6" cy="441.3" r="4.15"/><circle cx="234.0" cy="466.8" r="4.15"/><circle cx="236.1" cy="470.3" r="4.15"/><circle cx="238.2" cy="477.4" r="4.15"/><circle cx="240.4" cy="481.6" r="4.15"/><circle cx="243.2" cy="477.4" r="4.15"/><circle cx="246.0" cy="473.2" r="4.15"/><circle cx="171.5" cy="457.5" r="4.15"/><circle cx="178.0" cy="460.5" r="4.15"/><circle cx="186.0" cy="462.5" r="4.15"/><circle cx="194.0" cy="462.5" r="4.15"/><circle cx="215.0" cy="449.3" r="4.15"/><circle cx="217.7" cy="450.4" r="4.15"/><circle cx="220.5" cy="449.6" r="4.15"/><circle cx="239.3" cy="479.8" r="4.15"/><circle cx="241.8" cy="479.5" r="4.15"/><circle cx="244.6" cy="475.3" r="4.15"/><circle cx="246.0" cy="473.5" r="4.15"/><circle cx="248.7" cy="471.9" r="4.15"/><circle cx="251.3" cy="468.1" r="4.15"/><circle cx="254.0" cy="464.2" r="4.15"/><circle cx="255.5" cy="462.5" r="4.15"/><circle cx="256.5" cy="460.7" r="4.15"/><circle cx="258.0" cy="459.7" r="4.15"/><circle cx="259.5" cy="457.9" r="4.15"/><circle cx="261.0" cy="456.7" r="4.15"/><circle cx="262.5" cy="456.0" r="4.15"/><circle cx="263.3" cy="455.5" r="4.15"/><circle cx="265.4" cy="461.8" r="4.15"/><circle cx="266.8" cy="471.0" r="4.15"/><circle cx="268.2" cy="477.4" r="4.15"/><circle cx="269.5" cy="481.0" r="4.15"/><circle cx="270.9" cy="483.3" r="4.15"/><circle cx="272.3" cy="483.8" r="4.15"/><circle cx="273.7" cy="484.8" r="4.15"/><circle cx="275.1" cy="486.7" r="4.15"/><circle cx="276.4" cy="486.6" r="4.15"/><circle cx="277.8" cy="486.8" r="4.15"/><circle cx="279.2" cy="486.3" r="4.15"/><circle cx="280.6" cy="486.4" r="4.15"/><circle cx="282.0" cy="487.2" r="4.15"/><circle cx="283.4" cy="486.9" r="4.15"/><circle cx="284.8" cy="486.5" r="4.15"/><circle cx="286.2" cy="487.5" r="4.15"/><circle cx="287.6" cy="487.1" r="4.15"/><circle cx="289.0" cy="487.3" r="4.15"/><circle cx="290.3" cy="486.5" r="4.15"/><circle cx="291.7" cy="487.4" r="4.15"/><circle cx="293.1" cy="486.5" r="4.15"/><circle cx="294.5" cy="487.4" r="4.15"/><circle cx="295.9" cy="486.9" r="4.15"/><circle cx="297.3" cy="486.8" r="4.15"/><circle cx="298.7" cy="487.1" r="4.15"/><circle cx="300.1" cy="487.5" r="4.15"/><circle cx="301.5" cy="486.7" r="4.15"/><circle cx="302.9" cy="486.6" r="4.15"/><circle cx="304.2" cy="487.0" r="4.15"/><circle cx="305.6" cy="486.7" r="4.15"/><circle cx="307.0" cy="486.6" r="4.15"/><circle cx="308.4" cy="486.6" r="4.15"/><circle cx="309.8" cy="486.5" r="4.15"/><circle cx="311.2" cy="486.7" r="4.15"/><circle cx="312.6" cy="486.8" r="4.15"/><circle cx="314.0" cy="486.8" r="4.15"/><circle cx="315.4" cy="487.3" r="4.15"/><circle cx="316.8" cy="486.8" r="4.15"/><circle cx="318.1" cy="487.0" r="4.15"/><circle cx="319.5" cy="486.6" r="4.15"/><circle cx="320.9" cy="486.8" r="4.15"/><circle cx="322.3" cy="486.3" r="4.15"/><circle cx="323.7" cy="485.7" r="4.15"/><circle cx="325.1" cy="484.6" r="4.15"/><circle cx="326.5" cy="484.6" r="4.15"/><circle cx="327.9" cy="483.9" r="4.15"/><circle cx="329.3" cy="483.0" r="4.15"/><circle cx="330.7" cy="482.8" r="4.15"/><circle cx="332.0" cy="482.8" r="4.15"/><circle cx="333.4" cy="481.5" r="4.15"/><circle cx="334.7" cy="481.6" r="4.15"/></g>
<g><line x1="491.60" y1="100.00" x2="698.40" y2="100.00" stroke="#c4c4c4" stroke-width="1.6" stroke-dasharray="1.3 4.256"/><line x1="491.60" y1="86.60" x2="698.40" y2="86.60" stroke="#c4c4c4" stroke-width="1.6" stroke-dasharray="1.3 4.256"/><line x1="491.60" y1="79.90" x2="698.40" y2="79.90" stroke="#c4c4c4" stroke-width="1.6" stroke-dasharray="1.3 4.256"/><line x1="491.60" y1="73.20" x2="698.40" y2="73.20" stroke="#c4c4c4" stroke-width="1.6" stroke-dasharray="1.3 4.256"/><line x1="491.60" y1="59.80" x2="698.40" y2="59.80" stroke="#c4c4c4" stroke-width="1.6" stroke-dasharray="1.3 4.256"/><line x1="491.60" y1="53.10" x2="698.40" y2="53.10" stroke="#c4c4c4" stroke-width="1.6" stroke-dasharray="1.3 4.256"/><line x1="491.60" y1="46.40" x2="698.40" y2="46.40" stroke="#c4c4c4" stroke-width="1.6" stroke-dasharray="1.3 4.256"/><line x1="532.20" y1="44.30" x2="532.20" y2="104.40" stroke="#d5d5d5" stroke-width="1.6"/><line x1="573.60" y1="44.30" x2="573.60" y2="104.40" stroke="#d5d5d5" stroke-width="1.6"/><line x1="615.50" y1="44.30" x2="615.50" y2="104.40" stroke="#d5d5d5" stroke-width="1.6"/><line x1="657.40" y1="44.30" x2="657.40" y2="104.40" stroke="#d5d5d5" stroke-width="1.6"/><line x1="490.30" y1="66.50" x2="698.40" y2="66.50" stroke="#d5d5d5" stroke-width="1.6"/><line x1="490.30" y1="93.30" x2="698.40" y2="93.30" stroke="#d5d5d5" stroke-width="1.6"/></g>
<g><rect x="490.30" y="44.30" width="208.10" height="60.10" fill="none" stroke="#262626" stroke-width="2.0"/><line x1="490.30" y1="104.40" x2="490.30" y2="101.10" stroke="#262626" stroke-width="2.0"/><line x1="490.30" y1="44.30" x2="490.30" y2="47.60" stroke="#262626" stroke-width="2.0"/><line x1="532.20" y1="104.40" x2="532.20" y2="101.10" stroke="#262626" stroke-width="2.0"/><line x1="532.20" y1="44.30" x2="532.20" y2="47.60" stroke="#262626" stroke-width="2.0"/><line x1="573.60" y1="104.40" x2="573.60" y2="101.10" stroke="#262626" stroke-width="2.0"/><line x1="573.60" y1="44.30" x2="573.60" y2="47.60" stroke="#262626" stroke-width="2.0"/><line x1="615.50" y1="104.40" x2="615.50" y2="101.10" stroke="#262626" stroke-width="2.0"/><line x1="615.50" y1="44.30" x2="615.50" y2="47.60" stroke="#262626" stroke-width="2.0"/><line x1="657.40" y1="104.40" x2="657.40" y2="101.10" stroke="#262626" stroke-width="2.0"/><line x1="657.40" y1="44.30" x2="657.40" y2="47.60" stroke="#262626" stroke-width="2.0"/><line x1="698.40" y1="104.40" x2="698.40" y2="101.10" stroke="#262626" stroke-width="2.0"/><line x1="698.40" y1="44.30" x2="698.40" y2="47.60" stroke="#262626" stroke-width="2.0"/><line x1="490.30" y1="66.50" x2="493.60" y2="66.50" stroke="#262626" stroke-width="2.0"/><line x1="698.40" y1="66.50" x2="695.10" y2="66.50" stroke="#262626" stroke-width="2.0"/><text transform="translate(481.70,73.64) scale(1.035,1)" font-size="19.1" fill="#262626" text-anchor="end">280</text><line x1="490.30" y1="93.30" x2="493.60" y2="93.30" stroke="#262626" stroke-width="2.0"/><line x1="698.40" y1="93.30" x2="695.10" y2="93.30" stroke="#262626" stroke-width="2.0"/><text transform="translate(481.70,100.44) scale(1.035,1)" font-size="19.1" fill="#262626" text-anchor="end">278</text></g>
<g fill="none" stroke="#0072BD" stroke-width="2.05"><circle cx="511.2" cy="66.9" r="4.15"/><circle cx="512.6" cy="70.0" r="4.15"/><circle cx="514.0" cy="71.1" r="4.15"/><circle cx="515.4" cy="72.5" r="4.15"/><circle cx="516.8" cy="73.0" r="4.15"/><circle cx="518.1" cy="74.2" r="4.15"/><circle cx="519.5" cy="75.3" r="4.15"/><circle cx="520.9" cy="76.5" r="4.15"/><circle cx="522.3" cy="76.6" r="4.15"/><circle cx="523.7" cy="78.0" r="4.15"/><circle cx="525.1" cy="79.2" r="4.15"/><circle cx="526.5" cy="80.5" r="4.15"/><circle cx="527.9" cy="81.7" r="4.15"/><circle cx="529.3" cy="82.1" r="4.15"/><circle cx="530.7" cy="81.9" r="4.15"/><circle cx="532.0" cy="82.2" r="4.15"/><circle cx="533.4" cy="82.3" r="4.15"/><circle cx="534.8" cy="83.1" r="4.15"/><circle cx="536.2" cy="82.5" r="4.15"/><circle cx="537.6" cy="82.4" r="4.15"/><circle cx="539.0" cy="82.3" r="4.15"/><circle cx="540.4" cy="83.5" r="4.15"/><circle cx="541.8" cy="84.1" r="4.15"/><circle cx="543.0" cy="84.2" r="4.15"/><circle cx="545.6" cy="78.0" r="4.15"/><circle cx="547.4" cy="72.5" r="4.15"/><circle cx="549.2" cy="67.0" r="4.15"/><circle cx="550.8" cy="61.6" r="4.15"/><circle cx="552.2" cy="56.1" r="4.15"/><circle cx="553.6" cy="55.0" r="4.15"/><circle cx="555.0" cy="54.3" r="4.15"/><circle cx="556.4" cy="53.6" r="4.15"/><circle cx="557.8" cy="53.8" r="4.15"/><circle cx="559.1" cy="53.4" r="4.15"/><circle cx="560.5" cy="53.7" r="4.15"/><circle cx="561.9" cy="54.3" r="4.15"/><circle cx="563.3" cy="56.0" r="4.15"/><circle cx="564.7" cy="56.9" r="4.15"/><circle cx="566.1" cy="57.6" r="4.15"/><circle cx="567.5" cy="58.5" r="4.15"/><circle cx="568.9" cy="60.4" r="4.15"/><circle cx="570.3" cy="60.0" r="4.15"/><circle cx="571.7" cy="60.0" r="4.15"/><circle cx="573.0" cy="59.7" r="4.15"/><circle cx="575.6" cy="65.8" r="4.15"/><circle cx="576.3" cy="74.3" r="4.15"/><circle cx="578.4" cy="79.3" r="4.15"/><circle cx="580.5" cy="84.2" r="4.15"/><circle cx="582.6" cy="89.2" r="4.15"/><circle cx="584.1" cy="93.4" r="4.15"/><circle cx="586.9" cy="90.6" r="4.15"/><circle cx="589.0" cy="84.9" r="4.15"/><circle cx="591.1" cy="76.4" r="4.15"/><circle cx="592.3" cy="68.7" r="4.15"/><circle cx="594.2" cy="60.1" r="4.15"/><circle cx="595.6" cy="59.2" r="4.15"/><circle cx="597.0" cy="58.3" r="4.15"/><circle cx="598.4" cy="57.1" r="4.15"/><circle cx="599.8" cy="58.0" r="4.15"/><circle cx="601.1" cy="58.1" r="4.15"/><circle cx="602.5" cy="59.2" r="4.15"/><circle cx="604.9" cy="64.4" r="4.15"/><circle cx="607.0" cy="69.4" r="4.15"/><circle cx="608.4" cy="77.1" r="4.15"/><circle cx="609.8" cy="89.2" r="4.15"/><circle cx="612.6" cy="104.0" r="4.15"/><circle cx="614.8" cy="97.6" r="4.15"/><circle cx="616.9" cy="89.9" r="4.15"/><circle cx="619.7" cy="93.4" r="4.15"/><circle cx="621.5" cy="95.0" r="4.15"/><circle cx="623.9" cy="96.2" r="4.15"/><circle cx="626.1" cy="90.6" r="4.15"/><circle cx="627.5" cy="84.2" r="4.15"/><circle cx="629.0" cy="79.5" r="4.15"/><circle cx="630.4" cy="77.6" r="4.15"/><circle cx="631.8" cy="76.5" r="4.15"/><circle cx="633.2" cy="75.7" r="4.15"/><circle cx="634.6" cy="75.2" r="4.15"/><circle cx="635.9" cy="73.8" r="4.15"/><circle cx="637.3" cy="72.4" r="4.15"/><circle cx="638.7" cy="70.5" r="4.15"/><circle cx="640.1" cy="69.1" r="4.15"/><circle cx="641.5" cy="67.6" r="4.15"/><circle cx="642.9" cy="66.2" r="4.15"/><circle cx="644.3" cy="65.0" r="4.15"/><circle cx="645.7" cy="63.3" r="4.15"/><circle cx="647.1" cy="62.4" r="4.15"/><circle cx="648.5" cy="62.3" r="4.15"/><circle cx="649.8" cy="60.5" r="4.15"/><circle cx="651.2" cy="60.3" r="4.15"/><circle cx="652.6" cy="59.5" r="4.15"/><circle cx="654.0" cy="58.3" r="4.15"/><circle cx="655.4" cy="58.6" r="4.15"/><circle cx="656.8" cy="58.1" r="4.15"/><circle cx="658.2" cy="57.2" r="4.15"/><circle cx="659.6" cy="56.8" r="4.15"/><circle cx="661.0" cy="56.7" r="4.15"/><circle cx="662.4" cy="55.8" r="4.15"/><circle cx="663.7" cy="56.1" r="4.15"/><circle cx="665.1" cy="56.2" r="4.15"/><circle cx="666.5" cy="59.1" r="4.15"/><circle cx="667.9" cy="61.6" r="4.15"/><circle cx="669.3" cy="62.1" r="4.15"/><circle cx="670.7" cy="60.9" r="4.15"/><circle cx="672.1" cy="60.2" r="4.15"/><circle cx="673.5" cy="59.0" r="4.15"/><circle cx="676.3" cy="53.1" r="4.15"/><circle cx="678.0" cy="44.6" r="4.15"/></g>
<g><line x1="491.60" y1="225.54" x2="698.40" y2="225.54" stroke="#c4c4c4" stroke-width="1.6" stroke-dasharray="1.3 4.256"/><line x1="491.60" y1="219.58" x2="698.40" y2="219.58" stroke="#c4c4c4" stroke-width="1.6" stroke-dasharray="1.3 4.256"/><line x1="491.60" y1="213.62" x2="698.40" y2="213.62" stroke="#c4c4c4" stroke-width="1.6" stroke-dasharray="1.3 4.256"/><line x1="491.60" y1="207.66" x2="698.40" y2="207.66" stroke="#c4c4c4" stroke-width="1.6" stroke-dasharray="1.3 4.256"/><line x1="491.60" y1="195.74" x2="698.40" y2="195.74" stroke="#c4c4c4" stroke-width="1.6" stroke-dasharray="1.3 4.256"/><line x1="491.60" y1="189.78" x2="698.40" y2="189.78" stroke="#c4c4c4" stroke-width="1.6" stroke-dasharray="1.3 4.256"/><line x1="491.60" y1="183.82" x2="698.40" y2="183.82" stroke="#c4c4c4" stroke-width="1.6" stroke-dasharray="1.3 4.256"/><line x1="491.60" y1="177.86" x2="698.40" y2="177.86" stroke="#c4c4c4" stroke-width="1.6" stroke-dasharray="1.3 4.256"/><line x1="532.20" y1="171.90" x2="532.20" y2="231.50" stroke="#d5d5d5" stroke-width="1.6"/><line x1="573.60" y1="171.90" x2="573.60" y2="231.50" stroke="#d5d5d5" stroke-width="1.6"/><line x1="615.50" y1="171.90" x2="615.50" y2="231.50" stroke="#d5d5d5" stroke-width="1.6"/><line x1="657.40" y1="171.90" x2="657.40" y2="231.50" stroke="#d5d5d5" stroke-width="1.6"/><line x1="490.30" y1="201.70" x2="698.40" y2="201.70" stroke="#d5d5d5" stroke-width="1.6"/></g>
<g><rect x="490.30" y="171.90" width="208.10" height="59.60" fill="none" stroke="#262626" stroke-width="2.0"/><line x1="490.30" y1="231.50" x2="490.30" y2="228.20" stroke="#262626" stroke-width="2.0"/><line x1="490.30" y1="171.90" x2="490.30" y2="175.20" stroke="#262626" stroke-width="2.0"/><line x1="532.20" y1="231.50" x2="532.20" y2="228.20" stroke="#262626" stroke-width="2.0"/><line x1="532.20" y1="171.90" x2="532.20" y2="175.20" stroke="#262626" stroke-width="2.0"/><line x1="573.60" y1="231.50" x2="573.60" y2="228.20" stroke="#262626" stroke-width="2.0"/><line x1="573.60" y1="171.90" x2="573.60" y2="175.20" stroke="#262626" stroke-width="2.0"/><line x1="615.50" y1="231.50" x2="615.50" y2="228.20" stroke="#262626" stroke-width="2.0"/><line x1="615.50" y1="171.90" x2="615.50" y2="175.20" stroke="#262626" stroke-width="2.0"/><line x1="657.40" y1="231.50" x2="657.40" y2="228.20" stroke="#262626" stroke-width="2.0"/><line x1="657.40" y1="171.90" x2="657.40" y2="175.20" stroke="#262626" stroke-width="2.0"/><line x1="698.40" y1="231.50" x2="698.40" y2="228.20" stroke="#262626" stroke-width="2.0"/><line x1="698.40" y1="171.90" x2="698.40" y2="175.20" stroke="#262626" stroke-width="2.0"/><line x1="490.30" y1="171.90" x2="493.60" y2="171.90" stroke="#262626" stroke-width="2.0"/><line x1="698.40" y1="171.90" x2="695.10" y2="171.90" stroke="#262626" stroke-width="2.0"/><text transform="translate(481.70,179.04) scale(1.035,1)" font-size="19.1" fill="#262626" text-anchor="end">1</text><line x1="490.30" y1="201.70" x2="493.60" y2="201.70" stroke="#262626" stroke-width="2.0"/><line x1="698.40" y1="201.70" x2="695.10" y2="201.70" stroke="#262626" stroke-width="2.0"/><text transform="translate(481.70,208.84) scale(1.035,1)" font-size="19.1" fill="#262626" text-anchor="end">0</text><line x1="490.30" y1="231.50" x2="493.60" y2="231.50" stroke="#262626" stroke-width="2.0"/><line x1="698.40" y1="231.50" x2="695.10" y2="231.50" stroke="#262626" stroke-width="2.0"/><text transform="translate(481.70,238.64) scale(1.035,1)" font-size="19.1" fill="#262626" text-anchor="end">-1</text></g>
<g fill="none" stroke="#0072BD" stroke-width="2.05"><circle cx="510.9" cy="201.8" r="4.15"/><circle cx="512.1" cy="201.8" r="4.15"/><circle cx="513.3" cy="201.8" r="4.15"/><circle cx="514.5" cy="201.8" r="4.15"/><circle cx="515.7" cy="201.8" r="4.15"/><circle cx="516.9" cy="201.8" r="4.15"/><circle cx="518.1" cy="201.8" r="4.15"/><circle cx="519.3" cy="201.8" r="4.15"/><circle cx="520.5" cy="201.8" r="4.15"/><circle cx="521.7" cy="201.8" r="4.15"/><circle cx="522.9" cy="201.8" r="4.15"/><circle cx="524.1" cy="201.8" r="4.15"/><circle cx="525.3" cy="201.8" r="4.15"/><circle cx="526.5" cy="201.8" r="4.15"/><circle cx="527.7" cy="201.8" r="4.15"/><circle cx="528.9" cy="201.8" r="4.15"/><circle cx="530.1" cy="201.8" r="4.15"/><circle cx="531.3" cy="201.8" r="4.15"/><circle cx="532.5" cy="201.8" r="4.15"/><circle cx="533.7" cy="201.8" r="4.15"/><circle cx="534.9" cy="201.8" r="4.15"/><circle cx="536.1" cy="201.8" r="4.15"/><circle cx="537.3" cy="201.8" r="4.15"/><circle cx="538.5" cy="201.8" r="4.15"/><circle cx="539.7" cy="201.8" r="4.15"/><circle cx="540.9" cy="201.8" r="4.15"/><circle cx="542.1" cy="201.8" r="4.15"/><circle cx="543.3" cy="201.8" r="4.15"/><circle cx="544.5" cy="201.8" r="4.15"/><circle cx="545.7" cy="201.8" r="4.15"/><circle cx="546.9" cy="201.8" r="4.15"/><circle cx="548.1" cy="201.8" r="4.15"/><circle cx="549.3" cy="201.8" r="4.15"/><circle cx="550.5" cy="201.8" r="4.15"/><circle cx="551.7" cy="201.8" r="4.15"/><circle cx="552.9" cy="201.8" r="4.15"/><circle cx="554.1" cy="201.8" r="4.15"/><circle cx="555.3" cy="201.8" r="4.15"/><circle cx="556.5" cy="201.8" r="4.15"/><circle cx="557.7" cy="201.8" r="4.15"/><circle cx="558.9" cy="201.8" r="4.15"/><circle cx="560.1" cy="201.8" r="4.15"/><circle cx="561.3" cy="201.8" r="4.15"/><circle cx="562.5" cy="201.8" r="4.15"/><circle cx="563.7" cy="201.8" r="4.15"/><circle cx="564.9" cy="201.8" r="4.15"/><circle cx="566.1" cy="201.8" r="4.15"/><circle cx="567.3" cy="201.8" r="4.15"/><circle cx="568.5" cy="201.8" r="4.15"/><circle cx="569.7" cy="201.8" r="4.15"/><circle cx="570.9" cy="201.8" r="4.15"/><circle cx="572.1" cy="201.8" r="4.15"/><circle cx="573.3" cy="201.8" r="4.15"/><circle cx="574.5" cy="201.8" r="4.15"/><circle cx="575.7" cy="201.8" r="4.15"/><circle cx="576.9" cy="201.8" r="4.15"/><circle cx="578.1" cy="201.8" r="4.15"/><circle cx="579.3" cy="201.8" r="4.15"/><circle cx="580.5" cy="201.8" r="4.15"/><circle cx="581.7" cy="201.8" r="4.15"/><circle cx="582.9" cy="201.8" r="4.15"/><circle cx="584.1" cy="201.8" r="4.15"/><circle cx="585.3" cy="201.8" r="4.15"/><circle cx="586.5" cy="201.8" r="4.15"/><circle cx="587.7" cy="201.8" r="4.15"/><circle cx="588.9" cy="201.8" r="4.15"/><circle cx="590.1" cy="201.8" r="4.15"/><circle cx="591.3" cy="201.8" r="4.15"/><circle cx="592.5" cy="201.8" r="4.15"/><circle cx="593.7" cy="201.8" r="4.15"/><circle cx="594.9" cy="201.8" r="4.15"/><circle cx="596.1" cy="201.8" r="4.15"/><circle cx="597.3" cy="201.8" r="4.15"/><circle cx="598.5" cy="201.8" r="4.15"/><circle cx="599.7" cy="201.8" r="4.15"/><circle cx="600.9" cy="201.8" r="4.15"/><circle cx="602.1" cy="201.8" r="4.15"/><circle cx="603.3" cy="201.8" r="4.15"/><circle cx="604.5" cy="201.8" r="4.15"/><circle cx="605.7" cy="201.8" r="4.15"/><circle cx="606.9" cy="201.8" r="4.15"/><circle cx="608.1" cy="201.8" r="4.15"/><circle cx="609.3" cy="201.8" r="4.15"/><circle cx="610.5" cy="201.8" r="4.15"/><circle cx="611.7" cy="201.8" r="4.15"/><circle cx="612.9" cy="201.8" r="4.15"/><circle cx="614.1" cy="201.8" r="4.15"/><circle cx="615.3" cy="201.8" r="4.15"/><circle cx="616.5" cy="201.8" r="4.15"/><circle cx="617.7" cy="201.8" r="4.15"/><circle cx="618.9" cy="201.8" r="4.15"/><circle cx="620.1" cy="201.8" r="4.15"/><circle cx="621.3" cy="201.8" r="4.15"/><circle cx="622.5" cy="201.8" r="4.15"/><circle cx="623.7" cy="201.8" r="4.15"/><circle cx="624.9" cy="201.8" r="4.15"/><circle cx="626.1" cy="201.8" r="4.15"/><circle cx="627.3" cy="201.8" r="4.15"/><circle cx="628.5" cy="201.8" r="4.15"/><circle cx="629.7" cy="201.8" r="4.15"/><circle cx="630.9" cy="201.8" r="4.15"/><circle cx="632.1" cy="201.8" r="4.15"/><circle cx="633.3" cy="201.8" r="4.15"/><circle cx="634.5" cy="201.8" r="4.15"/><circle cx="635.7" cy="201.8" r="4.15"/><circle cx="636.9" cy="201.8" r="4.15"/><circle cx="638.1" cy="201.8" r="4.15"/><circle cx="639.3" cy="201.8" r="4.15"/><circle cx="640.5" cy="201.8" r="4.15"/><circle cx="641.7" cy="201.8" r="4.15"/><circle cx="642.9" cy="201.8" r="4.15"/><circle cx="644.1" cy="201.8" r="4.15"/><circle cx="645.3" cy="201.8" r="4.15"/><circle cx="646.5" cy="201.8" r="4.15"/><circle cx="647.7" cy="201.8" r="4.15"/><circle cx="648.9" cy="201.8" r="4.15"/><circle cx="650.1" cy="201.8" r="4.15"/><circle cx="651.3" cy="201.8" r="4.15"/><circle cx="652.5" cy="201.8" r="4.15"/><circle cx="653.7" cy="201.8" r="4.15"/><circle cx="654.9" cy="201.8" r="4.15"/><circle cx="656.1" cy="201.8" r="4.15"/><circle cx="657.3" cy="201.8" r="4.15"/><circle cx="658.5" cy="201.8" r="4.15"/><circle cx="659.7" cy="201.8" r="4.15"/><circle cx="660.9" cy="201.8" r="4.15"/><circle cx="662.1" cy="201.8" r="4.15"/><circle cx="663.3" cy="201.8" r="4.15"/><circle cx="664.5" cy="201.8" r="4.15"/><circle cx="665.7" cy="201.8" r="4.15"/><circle cx="666.9" cy="201.8" r="4.15"/><circle cx="668.1" cy="201.8" r="4.15"/><circle cx="669.3" cy="201.8" r="4.15"/><circle cx="670.5" cy="201.8" r="4.15"/><circle cx="671.7" cy="201.8" r="4.15"/><circle cx="672.9" cy="201.8" r="4.15"/><circle cx="674.1" cy="201.8" r="4.15"/><circle cx="675.3" cy="201.8" r="4.15"/><circle cx="676.5" cy="201.8" r="4.15"/><circle cx="677.7" cy="201.8" r="4.15"/><circle cx="678.0" cy="201.8" r="4.15"/></g>
<g><line x1="491.60" y1="356.51" x2="698.40" y2="356.51" stroke="#c4c4c4" stroke-width="1.6" stroke-dasharray="1.3 4.256"/><line x1="491.60" y1="346.29" x2="698.40" y2="346.29" stroke="#c4c4c4" stroke-width="1.6" stroke-dasharray="1.3 4.256"/><line x1="491.60" y1="341.18" x2="698.40" y2="341.18" stroke="#c4c4c4" stroke-width="1.6" stroke-dasharray="1.3 4.256"/><line x1="491.60" y1="336.07" x2="698.40" y2="336.07" stroke="#c4c4c4" stroke-width="1.6" stroke-dasharray="1.3 4.256"/><line x1="491.60" y1="330.96" x2="698.40" y2="330.96" stroke="#c4c4c4" stroke-width="1.6" stroke-dasharray="1.3 4.256"/><line x1="491.60" y1="320.74" x2="698.40" y2="320.74" stroke="#c4c4c4" stroke-width="1.6" stroke-dasharray="1.3 4.256"/><line x1="491.60" y1="315.63" x2="698.40" y2="315.63" stroke="#c4c4c4" stroke-width="1.6" stroke-dasharray="1.3 4.256"/><line x1="491.60" y1="310.52" x2="698.40" y2="310.52" stroke="#c4c4c4" stroke-width="1.6" stroke-dasharray="1.3 4.256"/><line x1="491.60" y1="305.41" x2="698.40" y2="305.41" stroke="#c4c4c4" stroke-width="1.6" stroke-dasharray="1.3 4.256"/><line x1="532.20" y1="299.30" x2="532.20" y2="359.40" stroke="#d5d5d5" stroke-width="1.6"/><line x1="573.60" y1="299.30" x2="573.60" y2="359.40" stroke="#d5d5d5" stroke-width="1.6"/><line x1="615.50" y1="299.30" x2="615.50" y2="359.40" stroke="#d5d5d5" stroke-width="1.6"/><line x1="657.40" y1="299.30" x2="657.40" y2="359.40" stroke="#d5d5d5" stroke-width="1.6"/><line x1="490.30" y1="325.85" x2="698.40" y2="325.85" stroke="#d5d5d5" stroke-width="1.6"/><line x1="490.30" y1="351.40" x2="698.40" y2="351.40" stroke="#d5d5d5" stroke-width="1.6"/></g>
<g><rect x="490.30" y="299.30" width="208.10" height="60.10" fill="none" stroke="#262626" stroke-width="2.0"/><line x1="490.30" y1="359.40" x2="490.30" y2="356.10" stroke="#262626" stroke-width="2.0"/><line x1="490.30" y1="299.30" x2="490.30" y2="302.60" stroke="#262626" stroke-width="2.0"/><line x1="532.20" y1="359.40" x2="532.20" y2="356.10" stroke="#262626" stroke-width="2.0"/><line x1="532.20" y1="299.30" x2="532.20" y2="302.60" stroke="#262626" stroke-width="2.0"/><line x1="573.60" y1="359.40" x2="573.60" y2="356.10" stroke="#262626" stroke-width="2.0"/><line x1="573.60" y1="299.30" x2="573.60" y2="302.60" stroke="#262626" stroke-width="2.0"/><line x1="615.50" y1="359.40" x2="615.50" y2="356.10" stroke="#262626" stroke-width="2.0"/><line x1="615.50" y1="299.30" x2="615.50" y2="302.60" stroke="#262626" stroke-width="2.0"/><line x1="657.40" y1="359.40" x2="657.40" y2="356.10" stroke="#262626" stroke-width="2.0"/><line x1="657.40" y1="299.30" x2="657.40" y2="302.60" stroke="#262626" stroke-width="2.0"/><line x1="698.40" y1="359.40" x2="698.40" y2="356.10" stroke="#262626" stroke-width="2.0"/><line x1="698.40" y1="299.30" x2="698.40" y2="302.60" stroke="#262626" stroke-width="2.0"/><line x1="490.30" y1="300.30" x2="493.60" y2="300.30" stroke="#262626" stroke-width="2.0"/><line x1="698.40" y1="300.30" x2="695.10" y2="300.30" stroke="#262626" stroke-width="2.0"/><text transform="translate(481.70,307.44) scale(1.035,1)" font-size="19.1" fill="#262626" text-anchor="end">5</text><line x1="490.30" y1="325.85" x2="493.60" y2="325.85" stroke="#262626" stroke-width="2.0"/><line x1="698.40" y1="325.85" x2="695.10" y2="325.85" stroke="#262626" stroke-width="2.0"/><text transform="translate(481.70,332.99) scale(1.035,1)" font-size="19.1" fill="#262626" text-anchor="end">4</text><line x1="490.30" y1="351.40" x2="493.60" y2="351.40" stroke="#262626" stroke-width="2.0"/><line x1="698.40" y1="351.40" x2="695.10" y2="351.40" stroke="#262626" stroke-width="2.0"/><text transform="translate(481.70,358.54) scale(1.035,1)" font-size="19.1" fill="#262626" text-anchor="end">3</text></g>
<g fill="none" stroke="#0072BD" stroke-width="2.05"><circle cx="511.2" cy="348.9" r="4.15"/><circle cx="512.6" cy="349.5" r="4.15"/><circle cx="514.0" cy="350.4" r="4.15"/><circle cx="515.4" cy="351.7" r="4.15"/><circle cx="516.8" cy="353.2" r="4.15"/><circle cx="518.1" cy="354.1" r="4.15"/><circle cx="519.5" cy="356.1" r="4.15"/><circle cx="520.9" cy="356.9" r="4.15"/><circle cx="522.3" cy="357.9" r="4.15"/><circle cx="523.7" cy="358.8" r="4.15"/><circle cx="525.1" cy="359.0" r="4.15"/><circle cx="526.5" cy="357.1" r="4.15"/><circle cx="527.9" cy="354.9" r="4.15"/><circle cx="529.3" cy="356.0" r="4.15"/><circle cx="530.7" cy="356.6" r="4.15"/><circle cx="532.0" cy="357.0" r="4.15"/><circle cx="533.4" cy="357.8" r="4.15"/><circle cx="534.8" cy="358.2" r="4.15"/><circle cx="536.2" cy="357.7" r="4.15"/><circle cx="537.6" cy="358.6" r="4.15"/><circle cx="539.0" cy="358.3" r="4.15"/><circle cx="540.4" cy="358.0" r="4.15"/><circle cx="541.8" cy="357.9" r="4.15"/><circle cx="543.2" cy="358.1" r="4.15"/><circle cx="544.6" cy="357.3" r="4.15"/><circle cx="545.9" cy="357.6" r="4.15"/><circle cx="547.3" cy="357.7" r="4.15"/><circle cx="548.7" cy="357.0" r="4.15"/><circle cx="550.1" cy="356.8" r="4.15"/><circle cx="551.5" cy="356.8" r="4.15"/><circle cx="552.9" cy="356.9" r="4.15"/><circle cx="554.3" cy="356.9" r="4.15"/><circle cx="555.7" cy="356.5" r="4.15"/><circle cx="557.1" cy="356.2" r="4.15"/><circle cx="558.5" cy="355.2" r="4.15"/><circle cx="559.8" cy="354.9" r="4.15"/><circle cx="561.2" cy="354.7" r="4.15"/><circle cx="562.6" cy="354.9" r="4.15"/><circle cx="564.0" cy="354.1" r="4.15"/><circle cx="565.4" cy="354.2" r="4.15"/><circle cx="566.8" cy="353.3" r="4.15"/><circle cx="568.2" cy="353.1" r="4.15"/><circle cx="569.6" cy="353.1" r="4.15"/><circle cx="571.0" cy="353.3" r="4.15"/><circle cx="572.4" cy="352.9" r="4.15"/><circle cx="573.7" cy="352.2" r="4.15"/><circle cx="575.1" cy="351.1" r="4.15"/><circle cx="576.5" cy="350.7" r="4.15"/><circle cx="577.9" cy="349.9" r="4.15"/><circle cx="579.3" cy="349.2" r="4.15"/><circle cx="580.7" cy="347.8" r="4.15"/><circle cx="582.1" cy="347.6" r="4.15"/><circle cx="583.5" cy="345.8" r="4.15"/><circle cx="584.9" cy="345.7" r="4.15"/><circle cx="586.3" cy="344.4" r="4.15"/><circle cx="587.6" cy="342.2" r="4.15"/><circle cx="589.0" cy="341.4" r="4.15"/><circle cx="590.4" cy="341.5" r="4.15"/><circle cx="591.8" cy="342.3" r="4.15"/><circle cx="593.2" cy="342.3" r="4.15"/><circle cx="594.6" cy="342.6" r="4.15"/><circle cx="596.0" cy="343.1" r="4.15"/><circle cx="597.4" cy="344.0" r="4.15"/><circle cx="598.8" cy="343.2" r="4.15"/><circle cx="600.2" cy="343.7" r="4.15"/><circle cx="601.5" cy="343.2" r="4.15"/><circle cx="602.9" cy="343.7" r="4.15"/><circle cx="604.3" cy="344.2" r="4.15"/><circle cx="605.7" cy="343.2" r="4.15"/><circle cx="607.1" cy="342.8" r="4.15"/><circle cx="608.5" cy="341.3" r="4.15"/><circle cx="609.8" cy="340.2" r="4.15"/><circle cx="611.9" cy="335.3" r="4.15"/><circle cx="613.3" cy="327.5" r="4.15"/><circle cx="616.2" cy="321.5" r="4.15"/><circle cx="617.6" cy="320.5" r="4.15"/><circle cx="619.0" cy="319.2" r="4.15"/><circle cx="620.4" cy="319.2" r="4.15"/><circle cx="621.8" cy="317.4" r="4.15"/><circle cx="623.1" cy="315.1" r="4.15"/><circle cx="624.5" cy="313.2" r="4.15"/><circle cx="625.9" cy="312.2" r="4.15"/><circle cx="627.3" cy="311.1" r="4.15"/><circle cx="628.7" cy="309.9" r="4.15"/><circle cx="630.1" cy="308.7" r="4.15"/><circle cx="631.5" cy="308.2" r="4.15"/><circle cx="632.9" cy="308.0" r="4.15"/><circle cx="634.3" cy="308.5" r="4.15"/><circle cx="635.7" cy="307.4" r="4.15"/><circle cx="637.0" cy="308.1" r="4.15"/><circle cx="638.4" cy="308.1" r="4.15"/><circle cx="639.8" cy="307.5" r="4.15"/><circle cx="641.2" cy="308.5" r="4.15"/><circle cx="642.6" cy="308.4" r="4.15"/><circle cx="644.0" cy="308.7" r="4.15"/><circle cx="645.4" cy="308.3" r="4.15"/><circle cx="646.8" cy="309.0" r="4.15"/><circle cx="648.2" cy="309.8" r="4.15"/><circle cx="649.6" cy="311.0" r="4.15"/><circle cx="650.9" cy="310.0" r="4.15"/><circle cx="652.3" cy="309.3" r="4.15"/><circle cx="653.7" cy="308.8" r="4.15"/><circle cx="655.1" cy="308.1" r="4.15"/><circle cx="656.5" cy="307.6" r="4.15"/><circle cx="657.9" cy="307.4" r="4.15"/><circle cx="659.3" cy="307.9" r="4.15"/><circle cx="660.7" cy="307.0" r="4.15"/><circle cx="662.1" cy="307.5" r="4.15"/><circle cx="663.5" cy="306.0" r="4.15"/><circle cx="664.8" cy="305.3" r="4.15"/><circle cx="666.2" cy="304.9" r="4.15"/><circle cx="667.6" cy="303.8" r="4.15"/><circle cx="669.0" cy="302.9" r="4.15"/><circle cx="670.4" cy="302.4" r="4.15"/><circle cx="671.8" cy="301.2" r="4.15"/><circle cx="673.2" cy="300.4" r="4.15"/><circle cx="674.6" cy="299.5" r="4.15"/><circle cx="677.0" cy="302.7" r="4.15"/><circle cx="677.7" cy="307.7" r="4.15"/></g>
<g><line x1="491.60" y1="475.28" x2="698.40" y2="475.28" stroke="#c4c4c4" stroke-width="1.6" stroke-dasharray="1.3 4.256"/><line x1="491.60" y1="463.26" x2="698.40" y2="463.26" stroke="#c4c4c4" stroke-width="1.6" stroke-dasharray="1.3 4.256"/><line x1="491.60" y1="451.24" x2="698.40" y2="451.24" stroke="#c4c4c4" stroke-width="1.6" stroke-dasharray="1.3 4.256"/><line x1="491.60" y1="439.22" x2="698.40" y2="439.22" stroke="#c4c4c4" stroke-width="1.6" stroke-dasharray="1.3 4.256"/><line x1="532.20" y1="427.20" x2="532.20" y2="487.30" stroke="#d5d5d5" stroke-width="1.6"/><line x1="573.60" y1="427.20" x2="573.60" y2="487.30" stroke="#d5d5d5" stroke-width="1.6"/><line x1="615.50" y1="427.20" x2="615.50" y2="487.30" stroke="#d5d5d5" stroke-width="1.6"/><line x1="657.40" y1="427.20" x2="657.40" y2="487.30" stroke="#d5d5d5" stroke-width="1.6"/></g>
<g><rect x="490.30" y="427.20" width="208.10" height="60.10" fill="none" stroke="#262626" stroke-width="2.0"/><line x1="490.30" y1="487.30" x2="490.30" y2="484.00" stroke="#262626" stroke-width="2.0"/><line x1="490.30" y1="427.20" x2="490.30" y2="430.50" stroke="#262626" stroke-width="2.0"/><line x1="532.20" y1="487.30" x2="532.20" y2="484.00" stroke="#262626" stroke-width="2.0"/><line x1="532.20" y1="427.20" x2="532.20" y2="430.50" stroke="#262626" stroke-width="2.0"/><line x1="573.60" y1="487.30" x2="573.60" y2="484.00" stroke="#262626" stroke-width="2.0"/><line x1="573.60" y1="427.20" x2="573.60" y2="430.50" stroke="#262626" stroke-width="2.0"/><line x1="615.50" y1="487.30" x2="615.50" y2="484.00" stroke="#262626" stroke-width="2.0"/><line x1="615.50" y1="427.20" x2="615.50" y2="430.50" stroke="#262626" stroke-width="2.0"/><line x1="657.40" y1="487.30" x2="657.40" y2="484.00" stroke="#262626" stroke-width="2.0"/><line x1="657.40" y1="427.20" x2="657.40" y2="430.50" stroke="#262626" stroke-width="2.0"/><line x1="698.40" y1="487.30" x2="698.40" y2="484.00" stroke="#262626" stroke-width="2.0"/><line x1="698.40" y1="427.20" x2="698.40" y2="430.50" stroke="#262626" stroke-width="2.0"/><line x1="490.30" y1="427.20" x2="493.60" y2="427.20" stroke="#262626" stroke-width="2.0"/><line x1="698.40" y1="427.20" x2="695.10" y2="427.20" stroke="#262626" stroke-width="2.0"/><text transform="translate(481.70,434.34) scale(1.035,1)" font-size="19.1" fill="#262626" text-anchor="end">500</text><line x1="490.30" y1="487.30" x2="493.60" y2="487.30" stroke="#262626" stroke-width="2.0"/><line x1="698.40" y1="487.30" x2="695.10" y2="487.30" stroke="#262626" stroke-width="2.0"/><text transform="translate(481.70,494.44) scale(1.035,1)" font-size="19.1" fill="#262626" text-anchor="end">0</text></g>
<g fill="none" stroke="#0072BD" stroke-width="2.05"><circle cx="511.2" cy="457.6" r="4.15"/><circle cx="512.9" cy="470.0" r="4.15"/><circle cx="514.8" cy="479.1" r="4.15"/><circle cx="516.4" cy="483.2" r="4.15"/><circle cx="517.9" cy="484.2" r="4.15"/><circle cx="519.3" cy="484.5" r="4.15"/><circle cx="520.8" cy="485.4" r="4.15"/><circle cx="522.2" cy="486.5" r="4.15"/><circle cx="523.6" cy="487.2" r="4.15"/><circle cx="525.0" cy="487.2" r="4.15"/><circle cx="526.4" cy="487.2" r="4.15"/><circle cx="527.8" cy="487.2" r="4.15"/><circle cx="529.2" cy="487.2" r="4.15"/><circle cx="530.6" cy="487.2" r="4.15"/><circle cx="532.0" cy="487.2" r="4.15"/><circle cx="533.4" cy="487.2" r="4.15"/><circle cx="534.8" cy="487.2" r="4.15"/><circle cx="536.2" cy="487.2" r="4.15"/><circle cx="537.6" cy="487.2" r="4.15"/><circle cx="539.0" cy="485.6" r="4.15"/><circle cx="540.3" cy="483.9" r="4.15"/><circle cx="541.6" cy="482.0" r="4.15"/><circle cx="543.0" cy="480.0" r="4.15"/><circle cx="544.2" cy="465.4" r="4.15"/><circle cx="546.2" cy="451.2" r="4.15"/><circle cx="547.5" cy="437.5" r="4.15"/><circle cx="549.3" cy="436.8" r="4.15"/><circle cx="551.1" cy="436.2" r="4.15"/><circle cx="552.9" cy="435.8" r="4.15"/><circle cx="554.7" cy="448.2" r="4.15"/><circle cx="556.5" cy="458.0" r="4.15"/><circle cx="558.1" cy="465.9" r="4.15"/><circle cx="559.6" cy="468.9" r="4.15"/><circle cx="561.2" cy="472.0" r="4.15"/><circle cx="562.7" cy="475.0" r="4.15"/><circle cx="564.3" cy="478.0" r="4.15"/><circle cx="565.8" cy="481.0" r="4.15"/><circle cx="567.4" cy="484.1" r="4.15"/><circle cx="568.9" cy="487.2" r="4.15"/><circle cx="570.2" cy="487.2" r="4.15"/><circle cx="571.6" cy="487.2" r="4.15"/><circle cx="572.9" cy="487.2" r="4.15"/><circle cx="574.2" cy="487.2" r="4.15"/><circle cx="575.6" cy="487.2" r="4.15"/><circle cx="576.9" cy="487.2" r="4.15"/><circle cx="578.3" cy="487.2" r="4.15"/><circle cx="579.6" cy="487.2" r="4.15"/><circle cx="581.0" cy="486.5" r="4.15"/><circle cx="582.4" cy="485.4" r="4.15"/><circle cx="583.8" cy="484.4" r="4.15"/><circle cx="586.0" cy="472.6" r="4.15"/><circle cx="587.6" cy="461.4" r="4.15"/><circle cx="589.7" cy="449.8" r="4.15"/><circle cx="591.8" cy="447.0" r="4.15"/><circle cx="594.0" cy="445.6" r="4.15"/><circle cx="595.4" cy="444.2" r="4.15"/><circle cx="596.4" cy="450.5" r="4.15"/><circle cx="597.8" cy="456.2" r="4.15"/><circle cx="599.2" cy="461.1" r="4.15"/><circle cx="600.6" cy="465.4" r="4.15"/><circle cx="602.0" cy="469.6" r="4.15"/><circle cx="603.6" cy="473.5" r="4.15"/><circle cx="605.4" cy="477.2" r="4.15"/><circle cx="607.2" cy="480.8" r="4.15"/><circle cx="609.0" cy="484.4" r="4.15"/><circle cx="610.7" cy="487.2" r="4.15"/><circle cx="612.1" cy="487.2" r="4.15"/><circle cx="613.4" cy="487.2" r="4.15"/><circle cx="614.8" cy="487.2" r="4.15"/><circle cx="616.2" cy="487.2" r="4.15"/><circle cx="617.5" cy="487.2" r="4.15"/><circle cx="618.9" cy="487.2" r="4.15"/><circle cx="620.2" cy="487.2" r="4.15"/><circle cx="621.6" cy="487.2" r="4.15"/><circle cx="623.0" cy="486.6" r="4.15"/><circle cx="624.4" cy="485.9" r="4.15"/><circle cx="625.8" cy="485.2" r="4.15"/><circle cx="627.6" cy="473.3" r="4.15"/><circle cx="628.9" cy="462.3" r="4.15"/><circle cx="631.0" cy="451.2" r="4.15"/><circle cx="633.1" cy="449.8" r="4.15"/><circle cx="635.3" cy="449.8" r="4.15"/><circle cx="637.4" cy="450.5" r="4.15"/><circle cx="638.8" cy="456.9" r="4.15"/><circle cx="639.8" cy="461.1" r="4.15"/><circle cx="640.9" cy="465.4" r="4.15"/><circle cx="642.3" cy="468.9" r="4.15"/><circle cx="643.7" cy="472.5" r="4.15"/><circle cx="645.4" cy="476.0" r="4.15"/><circle cx="647.0" cy="479.1" r="4.15"/><circle cx="648.7" cy="482.2" r="4.15"/><circle cx="650.4" cy="485.0" r="4.15"/><circle cx="652.1" cy="487.2" r="4.15"/><circle cx="653.5" cy="487.2" r="4.15"/><circle cx="655.0" cy="487.2" r="4.15"/><circle cx="656.4" cy="487.2" r="4.15"/><circle cx="657.8" cy="487.2" r="4.15"/><circle cx="659.2" cy="487.2" r="4.15"/><circle cx="660.7" cy="487.2" r="4.15"/><circle cx="662.1" cy="487.2" r="4.15"/><circle cx="663.5" cy="487.2" r="4.15"/><circle cx="664.9" cy="487.2" r="4.15"/><circle cx="666.4" cy="487.2" r="4.15"/><circle cx="667.8" cy="487.2" r="4.15"/><circle cx="669.4" cy="477.2" r="4.15"/><circle cx="670.9" cy="466.1" r="4.15"/><circle cx="672.7" cy="456.9" r="4.15"/><circle cx="674.2" cy="454.1" r="4.15"/><circle cx="675.6" cy="451.2" r="4.15"/><circle cx="677.0" cy="448.4" r="4.15"/><circle cx="678.1" cy="446.3" r="4.15"/></g>
<text transform="translate(159.50,510.80) rotate(-45) scale(1.035,1)" font-size="19.1" fill="#262626" text-anchor="end">09/28</text>
<text transform="translate(200.40,510.80) rotate(-45) scale(1.035,1)" font-size="19.1" fill="#262626" text-anchor="end">09/29</text>
<text transform="translate(242.60,510.80) rotate(-45) scale(1.035,1)" font-size="19.1" fill="#262626" text-anchor="end">09/30</text>
<text transform="translate(284.40,510.80) rotate(-45) scale(1.035,1)" font-size="19.1" fill="#262626" text-anchor="end">10/01</text>
<text transform="translate(325.80,510.80) rotate(-45) scale(1.035,1)" font-size="19.1" fill="#262626" text-anchor="end">10/02</text>
<text transform="translate(367.60,510.80) rotate(-45) scale(1.035,1)" font-size="19.1" fill="#262626" text-anchor="end">10/03</text>
<text transform="translate(250.55,575.9) scale(1.11,1)" font-size="20.8" fill="#262626" text-anchor="middle">Time</text>
<text transform="translate(502.50,510.80) rotate(-45) scale(1.035,1)" font-size="19.1" fill="#262626" text-anchor="end">09/28</text>
<text transform="translate(544.40,510.80) rotate(-45) scale(1.035,1)" font-size="19.1" fill="#262626" text-anchor="end">09/29</text>
<text transform="translate(585.80,510.80) rotate(-45) scale(1.035,1)" font-size="19.1" fill="#262626" text-anchor="end">09/30</text>
<text transform="translate(627.70,510.80) rotate(-45) scale(1.035,1)" font-size="19.1" fill="#262626" text-anchor="end">10/01</text>
<text transform="translate(669.60,510.80) rotate(-45) scale(1.035,1)" font-size="19.1" fill="#262626" text-anchor="end">10/02</text>
<text transform="translate(710.60,510.80) rotate(-45) scale(1.035,1)" font-size="19.1" fill="#262626" text-anchor="end">10/03</text>
<text transform="translate(593.55,575.9) scale(1.11,1)" font-size="20.8" fill="#262626" text-anchor="middle">Time</text>
<text transform="translate(251.55,31.8) scale(1.085,1)" font-size="20.8" font-weight="bold" fill="#000" text-anchor="middle">Figure 3 medium</text>
<text transform="translate(84.30,74.40) rotate(-90) scale(0.888,1)" font-size="20.8" fill="#262626" text-anchor="middle"><tspan>PRESSURE</tspan></text>
<text transform="translate(86.30,201.40) rotate(-90) scale(1.0,1)" font-size="20.8" fill="#262626" text-anchor="middle"><tspan>AIR</tspan><tspan font-size="16.64" dy="9.6">T</tspan><tspan dy="-9.6" font-size="0.01">&#8203;</tspan><tspan>EMP</tspan></text>
<text transform="translate(85.10,330.00) rotate(-90) scale(1.0,1)" font-size="20.8" fill="#262626" text-anchor="middle"><tspan>MIXDEPTH</tspan></text>
<text transform="translate(86.30,457.40) rotate(-90) scale(0.945,1)" font-size="20.8" fill="#262626" text-anchor="middle"><tspan>TERR</tspan><tspan font-size="16.64" dy="9.6">M</tspan><tspan dy="-9.6" font-size="0.01">&#8203;</tspan><tspan>SL</tspan></text>
<text transform="translate(438.00,74.20) rotate(-90) scale(1.0,1)" font-size="20.8" fill="#262626" text-anchor="middle"><tspan>THETA</tspan></text>
<text transform="translate(455.60,201.70) rotate(-90) scale(1.0,1)" font-size="20.8" fill="#262626" text-anchor="middle"><tspan>RAINFALL</tspan></text>
<text transform="translate(460.30,329.00) rotate(-90) scale(1.0,1)" font-size="20.8" fill="#262626" text-anchor="middle"><tspan>H2OMIXRA</tspan></text>
<text transform="translate(399.40,456.90) rotate(-90) scale(1.0,1)" font-size="20.8" fill="#262626" text-anchor="middle"><tspan>SUN</tspan><tspan font-size="16.64" dy="9.6">F</tspan><tspan dy="-9.6" font-size="0.01">&#8203;</tspan><tspan>LUX</tspan></text>
</g>
</svg>
</body></html>
